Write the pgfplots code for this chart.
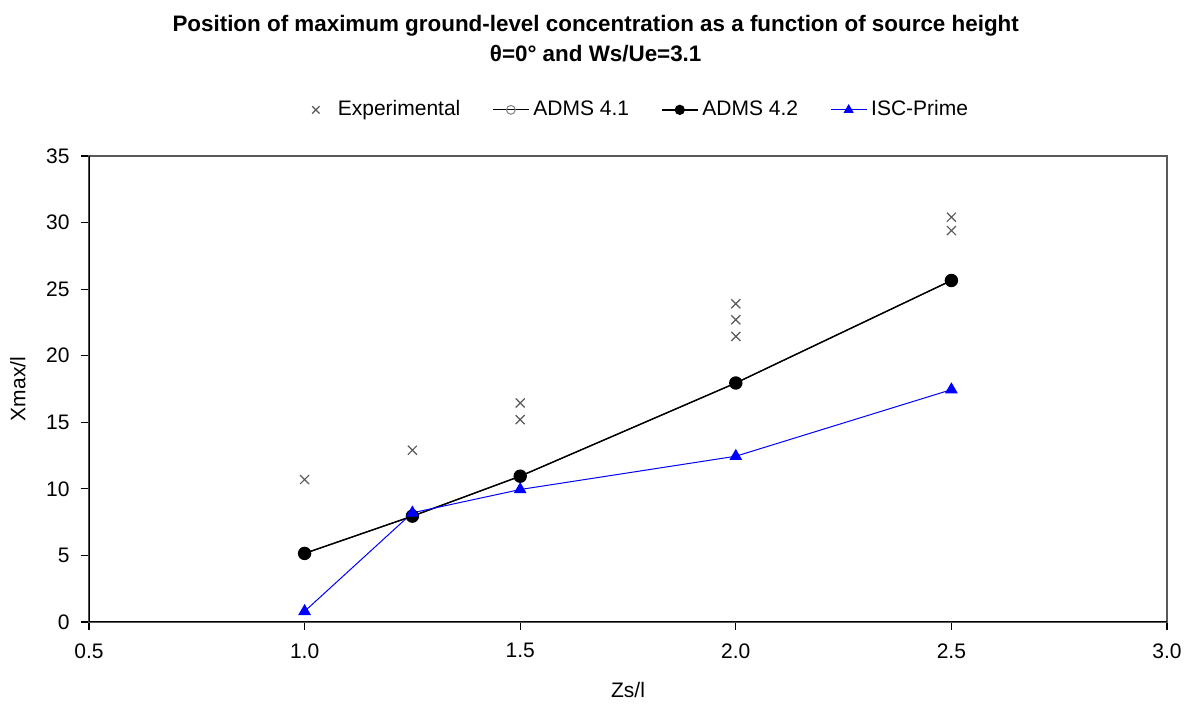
\documentclass[border=0pt]{standalone}
\usepackage{fontspec}
\setmainfont{Liberation Sans}
\usepackage{pgfplots}
\pgfplotsset{compat=1.18}

\pgfplotstableread{
x y
1.0 10.7
1.25 12.9
1.5 16.45
1.5 15.2
2.0 23.9
2.0 22.7
2.0 21.45
2.5 30.4
2.5 29.4
}\experimental
\pgfplotstableread{
x y
1.0 5.15
1.25 7.95
1.5 10.95
2.0 17.95
2.5 25.65
}\admsone
\pgfplotstableread{
x y
1.0 5.15
1.25 7.95
1.5 10.95
2.0 17.95
2.5 25.65
}\admstwo
\pgfplotstableread{
x y
1.0 0.8
1.25 8.2
1.5 9.95
2.0 12.45
2.5 17.45
}\isc

\begin{document}
\fontsize{10.5}{12.6}\selectfont
\begin{tikzpicture}
\path[use as bounding box] (-44.5pt,-41pt) rectangle (552pt,311pt);
\begin{axis}[
    scale only axis,
    width=539pt, height=233pt,
    at={(0,0)}, anchor=south west,
    xmin=0.5, xmax=3.0, ymin=0, ymax=35,
    xtick={0.5,1.0,...,3.0}, ytick={0,5,...,35},
    xticklabel style={/pgf/number format/fixed, /pgf/number format/fixed zerofill, /pgf/number format/precision=1, yshift=-3pt},
    /pgf/number format/assume math mode=true,
    tick align=outside, major tick length=4pt,
    xtick pos=bottom, ytick pos=left,
    tick style={black, line width=0.6pt},
    axis line style={gray!70!black, line width=0.7pt},
    ticklabel style={font=\fontsize{10.5}{12.6}\selectfont},
    yticklabel style={xshift=-2pt},
    xlabel={Zs/l}, ylabel={Xmax/l},
    label style={font=\fontsize{10.5}{12.6}\selectfont},
    xlabel style={at={(axis description cs:0.5,-0.146)}, anchor=center},
    ylabel style={at={(axis description cs:-0.066,0.5)}, anchor=center},
    title={\bfseries Position of maximum ground-level concentration as a function of source height\\ \bfseries θ=0° and Ws/Ue=3.1},
    title style={align=center, font=\fontsize{11.2}{15}\selectfont, at={(axis description cs:0.47,1.16)}, anchor=south},
    legend columns=4,
    legend style={draw=none, at={(0.512,1.099)}, anchor=center,
        font=\fontsize{10.5}{12.6}\selectfont,
        /tikz/every even column/.append style={column sep=14pt}},
    legend image code/.code={\draw[mark repeat=2, mark phase=2, #1] plot coordinates {(0pt,0pt) (9pt,0pt) (18pt,0pt)};},
]
\addplot[only marks, mark=x, mark size=3.2pt, color=black!65, line width=0.6pt,
    legend image code/.code={\path[draw=none, fill=none] (0pt,0pt) -- (12pt,0pt); \draw[only marks, mark=x, mark size=2.6pt, color=black!65, line width=0.6pt] plot coordinates {(3pt,0pt)};}]
    table[x=x, y=y] {\experimental};
\addlegendentry{Experimental}
\addplot[black, line width=0.5pt, mark=o, mark size=2.2pt, mark options={fill=white, draw=gray}]
    table[x=x, y=y] {\admsone};
\addlegendentry{ADMS 4.1}
\addplot[black, line width=0.7pt, mark=*, mark size=3pt, legend image post style={mark size=2.2pt}]
    table[x=x, y=y] {\admstwo};
\addlegendentry{ADMS 4.2}
\addplot[blue, line width=0.5pt, mark=triangle*, mark size=3.2pt, mark options={fill=blue, draw=blue}, legend image post style={mark size=2.4pt}]
    table[x=x, y=y] {\isc};
\addlegendentry{ISC-Prime}
\draw[black, line width=0.8pt] (rel axis cs:0,1) -- (rel axis cs:0,0) -- (rel axis cs:1,0);
\end{axis}
\end{tikzpicture}
\end{document}
